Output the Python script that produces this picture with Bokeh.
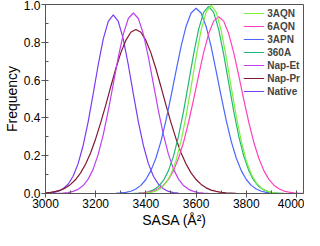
from bokeh.plotting import figure
from bokeh.models import Range1d, SingleIntervalTicker, NumeralTickFormatter, Legend, LegendItem
from bokeh.embed import file_html
from bokeh.resources import INLINE

# ---- data ----
series_names = ["3AQN", "6AQN", "3APN", "360A", "Nap-Et", "Nap-Pr", "Native"]
x_title = "SASA (Å²)"
y_title = "Frequency"

aqn3_x = [3380, 3400, 3420, 3440, 3460, 3480, 3500, 3520, 3540, 3560, 3580, 3600, 3620, 3640, 3660,
          3680, 3700, 3720, 3740, 3760, 3780, 3800, 3820, 3840, 3860, 3880, 3900, 3920, 3940]
aqn3_y = [0.001, 0.002, 0.006, 0.013, 0.028, 0.056, 0.102, 0.174, 0.277, 0.409, 0.563, 0.722, 0.863, 0.960, 0.995,
          0.960, 0.863, 0.722, 0.563, 0.409, 0.277, 0.174, 0.102, 0.056, 0.028, 0.013, 0.006, 0.002, 0.001]

aqn6_x = [3370, 3390, 3410, 3430, 3450, 3470, 3490, 3510, 3530, 3550, 3570, 3590, 3610, 3630, 3650, 3670, 3690,
          3710, 3730, 3750, 3770, 3790, 3810, 3830, 3850, 3870, 3890, 3910, 3930, 3950, 3970, 3990, 4010, 4030]
aqn6_y = [0.001, 0.003, 0.007, 0.013, 0.025, 0.044, 0.075, 0.121, 0.186, 0.271, 0.377, 0.497, 0.624, 0.745, 0.845, 0.912, 0.935,
          0.912, 0.845, 0.745, 0.624, 0.497, 0.377, 0.271, 0.186, 0.121, 0.075, 0.044, 0.025, 0.013, 0.007, 0.003, 0.001, 0.001]

apn3_x = [3280, 3300, 3320, 3340, 3360, 3380, 3400, 3420, 3440, 3460, 3480, 3500, 3520, 3540, 3560, 3580, 3600,
          3620, 3640, 3660, 3680, 3700, 3720, 3740, 3760, 3780, 3800, 3820, 3840, 3860, 3880, 3900, 3920]
apn3_y = [0.001, 0.003, 0.006, 0.012, 0.024, 0.043, 0.074, 0.121, 0.188, 0.276, 0.387, 0.514, 0.648, 0.777, 0.884, 0.955, 0.980,
          0.955, 0.884, 0.777, 0.648, 0.514, 0.387, 0.276, 0.188, 0.121, 0.074, 0.043, 0.024, 0.012, 0.006, 0.003, 0.001]

a360_x = [3350, 3370, 3390, 3410, 3430, 3450, 3470, 3490, 3510, 3530, 3550, 3570, 3590, 3610, 3630, 3650,
          3670, 3690, 3710, 3730, 3750, 3770, 3790, 3810, 3830, 3850, 3870, 3890, 3910, 3930, 3950]
a360_y = [0.001, 0.002, 0.004, 0.009, 0.019, 0.037, 0.069, 0.121, 0.198, 0.303, 0.435, 0.585, 0.736, 0.868, 0.958, 0.990,
          0.958, 0.868, 0.736, 0.585, 0.435, 0.303, 0.198, 0.121, 0.069, 0.037, 0.019, 0.009, 0.004, 0.002, 0.001]

napet_x = [3050, 3070, 3090, 3110, 3130, 3150, 3170, 3190, 3210, 3230, 3250, 3270, 3290, 3310, 3330, 3350,
           3370, 3390, 3410, 3430, 3450, 3470, 3490, 3510, 3530, 3550, 3570, 3590, 3610, 3630, 3650]
napet_y = [0.001, 0.002, 0.005, 0.011, 0.022, 0.042, 0.076, 0.129, 0.207, 0.310, 0.437, 0.579, 0.721, 0.843, 0.926, 0.955,
           0.926, 0.843, 0.721, 0.579, 0.437, 0.310, 0.207, 0.129, 0.076, 0.042, 0.022, 0.011, 0.005, 0.002, 0.001]

nappr_x = [3000, 3020, 3040, 3060, 3080, 3100, 3120, 3140, 3160, 3180, 3200, 3220, 3240, 3260, 3280, 3300, 3320, 3340, 3360,
           3380, 3400, 3420, 3440, 3460, 3480, 3500, 3520, 3540, 3560, 3580, 3600, 3620, 3640, 3660, 3680, 3700, 3720, 3740, 3760]
nappr_y = [0.003, 0.006, 0.011, 0.018, 0.030, 0.048, 0.074, 0.109, 0.156, 0.216, 0.290, 0.375, 0.468, 0.565, 0.660, 0.744, 0.810, 0.853, 0.868,
           0.853, 0.810, 0.744, 0.660, 0.565, 0.468, 0.375, 0.290, 0.216, 0.156, 0.109, 0.074, 0.048, 0.030, 0.018, 0.011, 0.006, 0.003, 0.002, 0.001]

native_x = [3010, 3030, 3050, 3070, 3090, 3110, 3130, 3150, 3170, 3190, 3210, 3230, 3250, 3270,
            3290, 3310, 3330, 3350, 3370, 3390, 3410, 3430, 3450, 3470, 3490, 3510, 3530]
native_y = [0.002, 0.005, 0.011, 0.025, 0.049, 0.091, 0.158, 0.254, 0.379, 0.527, 0.680, 0.817, 0.911, 0.945,
            0.911, 0.817, 0.680, 0.527, 0.379, 0.254, 0.158, 0.091, 0.049, 0.025, 0.011, 0.005, 0.002]

series_x = [aqn3_x, aqn6_x, apn3_x, a360_x, napet_x, nappr_x, native_x]
series_y = [aqn3_y, aqn6_y, apn3_y, a360_y, napet_y, nappr_y, native_y]
colors = ["#80ee3c", "#ff40c0", "#4a66ff", "#20b878", "#c040f0", "#801830", "#7a3cf0"]

FONT = "Liberation Sans"
AX = "#555555"

p = figure(width=304, height=230, output_backend="svg", toolbar_location=None,
           x_range=Range1d(3000, 4028), y_range=Range1d(0, 1.0),
           min_border_left=41, min_border_right=1, min_border_top=4, min_border_bottom=34)
p.xgrid.visible = False
p.ygrid.visible = False
p.outline_line_color = AX
p.outline_line_width = 1
p.background_fill_color = "white"
p.border_fill_color = "white"

p.xaxis.ticker = SingleIntervalTicker(interval=200, num_minor_ticks=2)
p.yaxis.ticker = SingleIntervalTicker(interval=0.2, num_minor_ticks=2)
p.yaxis.formatter = NumeralTickFormatter(format="0.0")
p.xaxis.axis_label = x_title
p.yaxis.axis_label = y_title
for ax in (p.xaxis[0], p.yaxis[0]):
    ax.axis_line_color = AX
    ax.major_tick_line_color = AX
    ax.minor_tick_line_color = AX
    ax.major_tick_out = 4
    ax.major_tick_in = 0
    ax.minor_tick_in = 3
    ax.minor_tick_out = 0
    ax.major_label_text_font = FONT
    ax.major_label_text_font_size = "12px"
    ax.major_label_text_color = "black"
    ax.major_label_standoff = 1
    ax.axis_label_text_font = FONT
    ax.axis_label_text_font_size = "14px"
    ax.axis_label_text_font_style = "normal"
    ax.axis_label_text_color = "black"
    ax.axis_label_standoff = 1

renderers = {}
draw_order = [6, 5, 4, 2, 3, 1, 0]
for i in draw_order:
    r = p.line(series_x[i], series_y[i], line_color=colors[i], line_width=1.2)
    renderers[i] = r

legend = Legend(items=[LegendItem(label=series_names[i], renderers=[renderers[i]]) for i in range(7)],
                location="top_right", border_line_alpha=0, background_fill_alpha=0,
                label_text_font=FONT, label_text_font_style="bold", label_text_font_size="10px",
                glyph_width=21, glyph_height=12, label_height=12, spacing=1, padding=0, margin=3,
                label_standoff=3)
p.add_layout(legend)

open("out.html", "w").write(file_html(p, INLINE))
